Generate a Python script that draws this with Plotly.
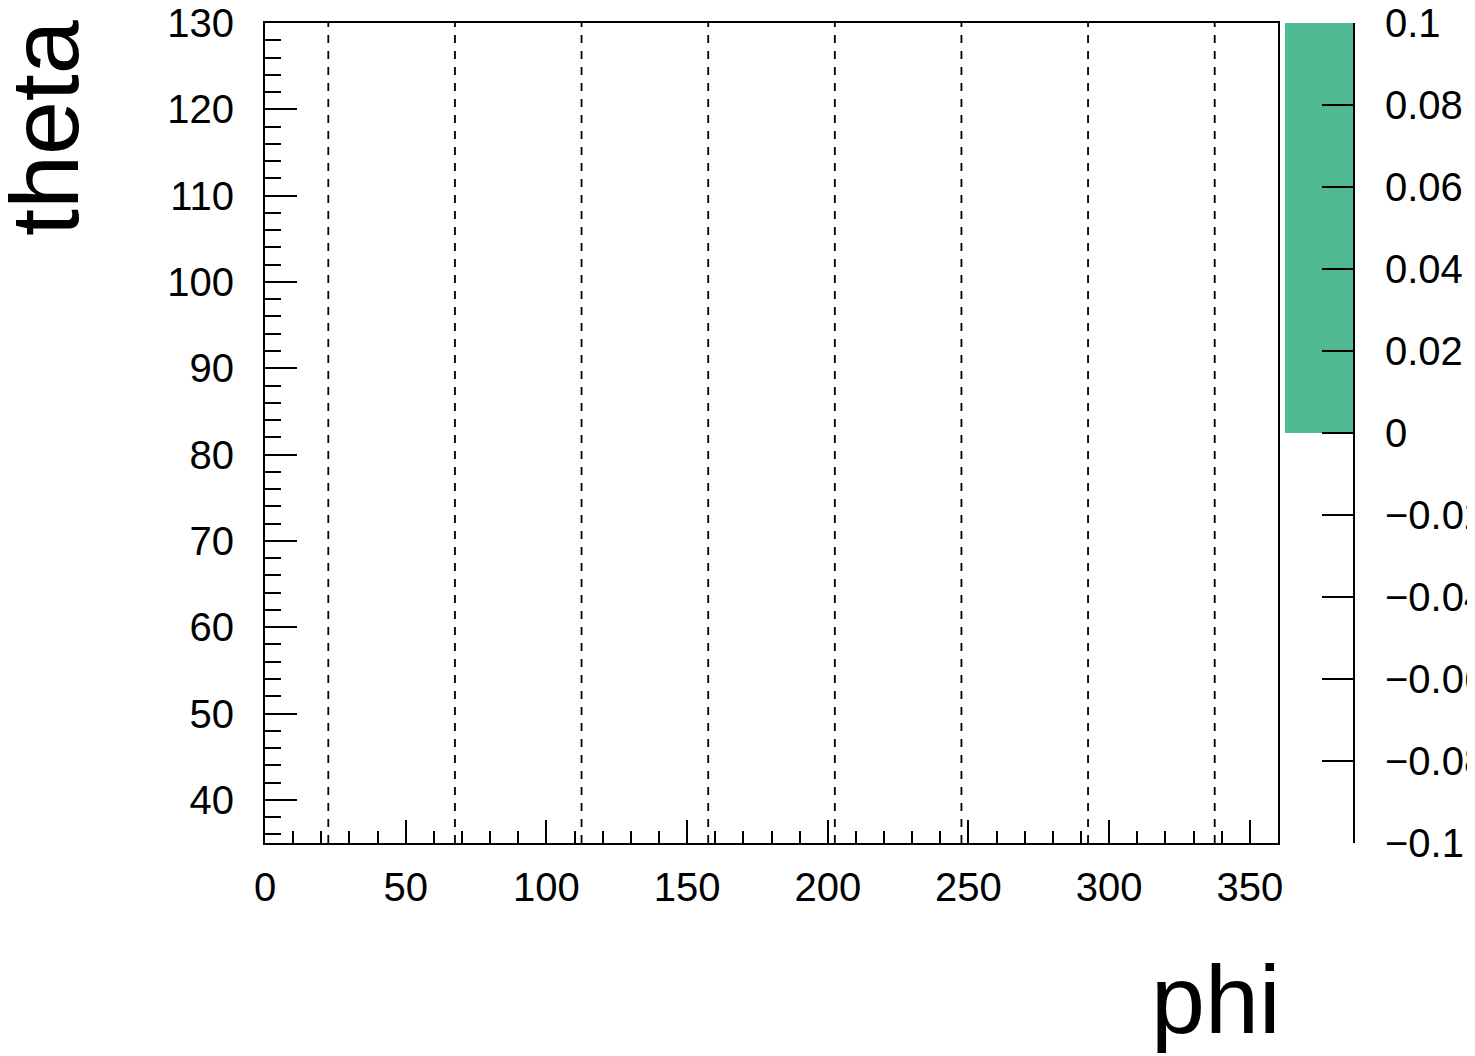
import plotly.graph_objects as go

# ---- data ----
phi_range = [0, 360]
theta_range = [35, 130]
phi_boundaries = [22.5, 67.5, 112.5, 157.5, 202.5, 247.5, 292.5, 337.5]
palette_range = [-0.1, 0.1]
palette_filled = [0.0, 0.1]          # coloured band of palette (from, to)
palette_ticks = [-0.1, -0.08, -0.06, -0.04, -0.02, 0, 0.02, 0.04, 0.06, 0.08, 0.1]
palette_ticktext = ["\u22120.1", "\u22120.08", "\u22120.06", "\u22120.04", "\u22120.02",
                    "0", "0.02", "0.04", "0.06", "0.08", "0.1"]
x_title = "phi"
y_title = "theta"

W, H = 1475, 1056
OFF = 8  # default page body margin
FONT = "Liberation Sans, Arial, Helvetica, sans-serif"
GREEN = "rgb(82,186,147)"

def px_x(p):
    return (p - OFF) / W

def px_y(p):
    return 1 - (p - OFF) / H

fig = go.Figure()

# dashed sector boundaries
xs, ys = [], []
for b in phi_boundaries:
    xs += [b, b, None]
    ys += [theta_range[0], theta_range[1], None]
fig.add_trace(go.Scatter(x=xs, y=ys, mode="lines",
                         line=dict(color="black", width=1.8, dash="8px,8px"),
                         hoverinfo="skip", showlegend=False))

# palette (colour axis)
fig.add_trace(go.Bar(x=[0], y=[palette_filled[1] - palette_filled[0]], base=[palette_filled[0]],
                     width=[1], marker=dict(color=GREEN, line=dict(width=0)),
                     xaxis="x2", yaxis="y2", showlegend=False, hoverinfo="skip"))

ydom = [px_y(843), px_y(23)]

fig.update_layout(
    width=W, height=H,
    margin=dict(l=0, r=0, t=0, b=0, autoexpand=False),
    paper_bgcolor="white", plot_bgcolor="white",
    font=dict(family=FONT, size=40, color="black"),
    showlegend=False,
    bargap=0,
    xaxis=dict(domain=[px_x(265), px_x(1278)], range=phi_range, showgrid=False, zeroline=False,
               showline=True, linecolor="black", linewidth=2, mirror=True,
               ticks="inside", ticklen=23, tickwidth=1.5, tickcolor="black",
               tick0=0, dtick=50, ticklabelstandoff=8, ticklabeloverflow="allow",
               minor=dict(ticks="inside", ticklen=12, tickwidth=1.5, tickcolor="black", dtick=10, tick0=0, showgrid=False),
               tickfont=dict(size=40), anchor="y", automargin=False),
    yaxis=dict(domain=ydom, range=theta_range, showgrid=False, zeroline=False,
               showline=True, linecolor="black", linewidth=2, mirror=True,
               ticks="inside", ticklen=32, tickwidth=1.5, tickcolor="black",
               tick0=0, dtick=10, ticklabelstandoff=21, ticklabeloverflow="allow",
               minor=dict(ticks="inside", ticklen=16, tickwidth=1.5, tickcolor="black", dtick=2, tick0=0, showgrid=False),
               tickfont=dict(size=40), anchor="x", automargin=False),
    xaxis2=dict(domain=[px_x(1285), px_x(1353)], range=[-0.5, 0.5], showgrid=False, zeroline=False,
                showline=False, showticklabels=False, ticks="", anchor="y2", fixedrange=True, automargin=False),
    yaxis2=dict(domain=ydom, range=palette_range, side="right", anchor="x2", showgrid=False, zeroline=False,
                showline=True, linecolor="black", linewidth=2,
                ticks="inside", ticklen=31, tickwidth=1.5, tickcolor="black",
                tickvals=palette_ticks, ticktext=palette_ticktext, ticklabelstandoff=22,
                ticklabeloverflow="allow",
                tickfont=dict(size=40), automargin=False),
    annotations=[
        dict(text=y_title, textangle=-90, xref="paper", yref="paper",
             x=px_x(44), y=px_y(18), xanchor="center", yanchor="top",
             showarrow=False, font=dict(size=97, family=FONT)),
        dict(text=x_title, xref="paper", yref="paper",
             x=px_x(1282), y=px_y(999), xanchor="right", yanchor="middle",
             showarrow=False, font=dict(size=97, family=FONT)),
    ],
)

fig.write_html("out.html")
